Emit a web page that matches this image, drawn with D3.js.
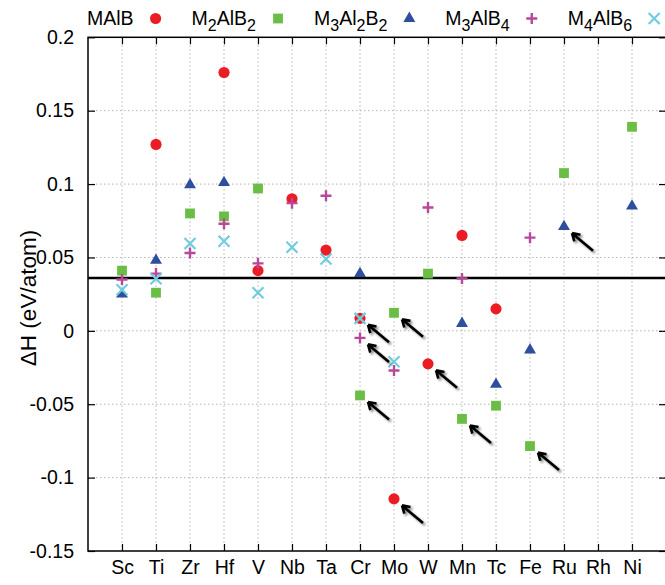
<!DOCTYPE html>
<html>
<head>
<meta charset="utf-8">
<script src="https://cdn.jsdelivr.net/npm/d3@7/dist/d3.min.js"></script>
<style>
  body { margin: 0; background: #fff; }
  text { font-family: "Liberation Sans", Arial, Helvetica, sans-serif; fill: #000; }
</style>
</head>
<body>
<svg id="chart" width="665" height="585"></svg>
<script>
// categories (x axis)
const metals = ["Sc","Ti","Zr","Hf","V","Nb","Ta","Cr","Mo","W","Mn","Tc","Fe","Ru","Rh","Ni"];
const yTicks = [0.2, 0.15, 0.1, 0.05, 0, -0.05, -0.1, -0.15];
const yTickLabels = ["0.2","0.15","0.1","0.05","0","-0.05","-0.1","-0.15"];
const cutoff = 0.036;

// formation enthalpy per phase, eV/atom
const mAlB = [["Ti",0.127],["Hf",0.176],["V",0.041],["Nb",0.090],["Ta",0.055],["Cr",0.0085],
              ["Mo",-0.1145],["W",-0.0225],["Mn",0.065],["Tc",0.015]];
const m2AlB2 = [["Sc",0.041],["Ti",0.026],["Zr",0.080],["Hf",0.078],["V",0.097],["Cr",-0.044],
                ["Mo",0.0123],["W",0.039],["Mn",-0.060],["Tc",-0.051],["Fe",-0.0785],["Ru",0.1075],["Ni",0.139]];
const m3Al2B2 = [["Sc",0.025],["Ti",0.048],["Zr",0.0995],["Hf",0.101],["Cr",0.039],["Mn",0.005],
                 ["Tc",-0.0365],["Fe",-0.013],["Ru",0.071],["Ni",0.085]];
const m3AlB4 = [["Sc",0.035],["Ti",0.039],["Zr",0.053],["Hf",0.073],["V",0.046],["Nb",0.087],
                ["Ta",0.092],["Cr",-0.0048],["Mo",-0.027],["W",0.084],["Mn",0.0357],["Fe",0.0635]];
const m4AlB6 = [["Sc",0.028],["Ti",0.0355],["Zr",0.0595],["Hf",0.061],["V",0.026],["Nb",0.057],
                ["Ta",0.049],["Cr",0.0085],["Mo",-0.021]];

// points flagged with arrows: [metal, series]
const arrowed = [["Cr","MAlB"],["Cr","M3AlB4"],["Cr","M2AlB2"],["Mo","M2AlB2"],["Mo","MAlB"],
                 ["W","MAlB"],["Mn","M2AlB2"],["Fe","M2AlB2"],["Ru","M3Al2B2"]];

const series = [
  {name:"MAlB",    label:"MAlB",       color:"#ec1c24", shape:"circle",   data:mAlB},
  {name:"M2AlB2",  label:"M_2AlB_2",   color:"#6abd45", shape:"square",   data:m2AlB2},
  {name:"M3Al2B2", label:"M_3Al_2B_2", color:"#2e4e9e", shape:"triangle", data:m3Al2B2},
  {name:"M3AlB4",  label:"M_3AlB_4",   color:"#b8489c", shape:"plus",     data:m3AlB4},
  {name:"M4AlB6",  label:"M_4AlB_6",   color:"#70cddf", shape:"cross",    data:m4AlB6}
];

const svg = d3.select("#chart");
const pLeft = 88, pRight = 666, pTop = 37.3, pBottom = 551;

const x = d3.scaleLinear().domain([0, metals.length + 1]).range([pLeft, pRight]);
const y = d3.scaleLinear().domain([-0.15, 0.2]).range([pBottom, pTop]);
const xPos = m => x(metals.indexOf(m) + 1);

// drop shadow for arrows
const defs = svg.append("defs");
defs.append("filter").attr("id","shadow").attr("x","-50%").attr("y","-50%").attr("width","200%").attr("height","200%")
  .append("feDropShadow").attr("dx",2).attr("dy",2).attr("stdDeviation",1.3)
  .attr("flood-color","#000").attr("flood-opacity",0.45);

// grid
const grid = svg.append("g").attr("stroke","#b4b4b4").attr("stroke-width",1).attr("stroke-dasharray","1.5,2.5");
grid.selectAll("line.h").data(yTicks.filter(v => v > -0.15 && v < 0.2)).enter().append("line")
  .attr("x1",pLeft).attr("x2",pRight).attr("y1",d => y(d)).attr("y2",d => y(d));
grid.selectAll("line.v").data(metals).enter().append("line")
  .attr("x1",d => xPos(d)).attr("x2",d => xPos(d)).attr("y1",pTop).attr("y2",pBottom);

// axes with inward ticks
const tickFmt = (d, i) => yTickLabels[i];
const xTickVals = metals.map((m, i) => i + 1);
svg.append("g").attr("transform",`translate(${pLeft},0)`)
  .call(d3.axisLeft(y).tickValues(yTicks).tickSize(-7).tickPadding(14).tickFormat(tickFmt))
  .call(g => g.select(".domain").remove());
svg.append("g").attr("transform",`translate(${pRight},0)`)
  .call(d3.axisRight(y).tickValues(yTicks).tickSize(-7).tickFormat(""))
  .call(g => g.select(".domain").remove());
svg.append("g").attr("transform",`translate(0,${pBottom})`)
  .call(d3.axisBottom(x).tickValues(xTickVals).tickSize(-7).tickPadding(9).tickFormat(v => metals[v - 1]))
  .call(g => g.select(".domain").remove());
svg.append("g").attr("transform",`translate(0,${pTop})`)
  .call(d3.axisTop(x).tickValues(xTickVals).tickSize(-7).tickFormat(""))
  .call(g => g.select(".domain").remove());
svg.selectAll(".tick line").attr("stroke","#000").attr("stroke-width",1.2);
svg.selectAll(".tick text").attr("font-size",19.5).attr("font-family","Liberation Sans, Arial, sans-serif").attr("fill","#000");

// frame
svg.append("rect").attr("x",pLeft).attr("y",pTop).attr("width",pRight-pLeft).attr("height",pBottom-pTop)
  .attr("fill","none").attr("stroke","#000").attr("stroke-width",1.5);

// stability threshold line
svg.append("line").attr("x1",pLeft).attr("x2",pRight).attr("y1",y(cutoff)).attr("y2",y(cutoff))
  .attr("stroke","#000").attr("stroke-width",2.5);

// y label
svg.append("text").attr("transform","translate(36,298) rotate(-90)").attr("text-anchor","middle")
  .attr("font-size",22.5).text("ΔH (eV/atom)");

// marker drawing
function drawMarker(sel, shape, color) {
  if (shape === "circle" || shape === "square" || shape === "triangle") {
    const type = {circle:d3.symbolCircle, square:d3.symbolSquare, triangle:d3.symbolTriangle}[shape];
    const size = {circle:98, square:96, triangle:62}[shape];
    sel.append("path").attr("d", d3.symbol().type(type).size(size)()).attr("fill", color);
  } else if (shape === "plus") {
    sel.append("path").attr("d","M-5.5,0H5.5M0,-5.5V5.5").attr("stroke",color).attr("stroke-width",2.4).attr("fill","none");
  } else {
    sel.append("path").attr("d","M-5.5,-5.5L5.5,5.5M-5.5,5.5L5.5,-5.5").attr("stroke",color).attr("stroke-width",2.2).attr("fill","none");
  }
}

series.forEach(s => {
  svg.append("g").selectAll("g").data(s.data).enter().append("g")
    .attr("transform", d => `translate(${xPos(d[0])},${y(d[1])})`)
    .each(function() { drawMarker(d3.select(this), s.shape, s.color); });
});

// arrows
const lookup = (m, name) => series.find(s => s.name === name).data.find(d => d[0] === m)[1];
svg.append("g").attr("filter","url(#shadow)").selectAll("path").data(arrowed).enter().append("path")
  .attr("transform", d => `translate(${xPos(d[0]) + 8},${y(lookup(d[0], d[1])) + 6.5})`)
  .attr("d","M21,17.5L0,0M0,0L8.5,1.6M0,0L2.3,8.2")
  .attr("stroke","#000").attr("stroke-width",2.6).attr("fill","none").attr("stroke-linecap","butt");

// legend
const legend = svg.append("g");
let lx = 87;
series.forEach(s => {
  const t = legend.append("text").attr("x", lx).attr("y", 24.5).attr("font-size", 19.5);
  let shifted = false;
  s.label.split(/(_\d)/).filter(p => p).forEach(p => {
    if (p[0] === "_") {
      t.append("tspan").attr("font-size", 16).attr("dy", 6).text(p.slice(1));
      shifted = true;
    } else {
      t.append("tspan").attr("dy", shifted ? -6 : 0).text(p);
      shifted = false;
    }
  });
  const w = t.node().getComputedTextLength();
  const sx = lx + w + 22;
  const g = legend.append("g").attr("transform", `translate(${sx},18.5)`);
  drawMarker(g, s.shape, s.color);
  lx = sx + 36;
});
</script>
</body>
</html>
